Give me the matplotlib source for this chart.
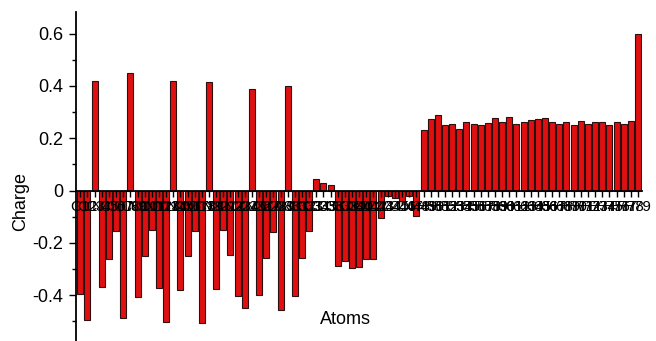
import matplotlib
matplotlib.use("Agg")
import matplotlib.pyplot as plt
from matplotlib.ticker import MultipleLocator, FuncFormatter

charges = [
    -0.397, -0.495, 0.420, -0.368, -0.261, -0.154, -0.486, 0.450, -0.409, -0.252,
    -0.152, -0.374, -0.502, 0.419, -0.381, -0.249, -0.155, -0.508, 0.415, -0.375,
    -0.151, -0.247, -0.402, -0.448, 0.388, -0.400, -0.257, -0.157, -0.457, 0.400,
    -0.402, -0.257, -0.154, 0.043, 0.030, 0.021, -0.289, -0.268, -0.295, -0.291,
    -0.262, -0.262, -0.107, -0.020, -0.030, -0.040, -0.020, -0.099, 0.231, 0.272,
    0.290, 0.252, 0.256, 0.236, 0.262, 0.256, 0.250, 0.259, 0.276, 0.261,
    0.280, 0.256, 0.261, 0.268, 0.273, 0.278, 0.261, 0.254, 0.262, 0.250,
    0.265, 0.256, 0.262, 0.262, 0.252, 0.262, 0.256, 0.266, 0.600,
]

elements = [
    "C", "O", "C", "N", "C", "C", "O", "C", "N", "C",
    "C", "N", "O", "C", "N", "C", "C", "O", "C", "N",
    "C", "C", "N", "O", "C", "N", "C", "C", "O", "C",
    "N", "C", "C", "C", "C", "C", "C", "C", "C", "C",
    "C", "C", "C", "C", "C", "C", "C", "N", "H", "H",
    "H", "H", "H", "H", "H", "H", "H", "H", "H", "H",
    "H", "H", "H", "H", "H", "H", "H", "H", "H", "H",
    "H", "H", "H", "H", "H", "H", "H", "H", "H",
]
atom_labels = [f"{e}{i + 1}" for i, e in enumerate(elements)]

plt.rcParams["font.family"] = ["Liberation Sans", "DejaVu Sans"]

fig = plt.figure(figsize=(6.56, 3.41), dpi=100)
ax = fig.add_axes([0.1159, 0.0, 0.978 - 0.1159, 0.965])

x = list(range(len(charges)))
ax.bar(x, charges, width=0.84, color="#e01010", edgecolor="#2a1010", linewidth=0.8)

ax.set_xlim(-0.6, len(charges) - 0.5)
ax.set_ylim(-0.5755, 0.683)

for s in ("top", "right"):
    ax.spines[s].set_visible(False)
ax.spines["bottom"].set_position(("data", 0))
ax.spines["bottom"].set_linewidth(1.3)
ax.spines["left"].set_linewidth(1.3)

ax.set_xticks(x)
ax.set_xticklabels(atom_labels, fontsize=11)
ax.tick_params(axis="x", direction="out", length=4, width=1, pad=2.5)

ax.yaxis.set_major_locator(MultipleLocator(0.2))
ax.yaxis.set_minor_locator(MultipleLocator(0.1))
ax.yaxis.set_major_formatter(FuncFormatter(lambda v, p: "0" if abs(v) < 1e-9 else f"{v:.1f}".replace("\u2212", "-")))
ax.tick_params(axis="y", which="major", direction="out", length=5, width=1, labelsize=13, pad=4)
ax.tick_params(axis="y", which="minor", direction="out", length=3, width=1)

fig.text(0.032, 0.41, "Charge", rotation=90, ha="center", va="center", fontsize=13)
fig.text(0.526, 0.062, "Atoms", ha="center", va="center", fontsize=13)

fig.savefig("out.png", dpi=100)
